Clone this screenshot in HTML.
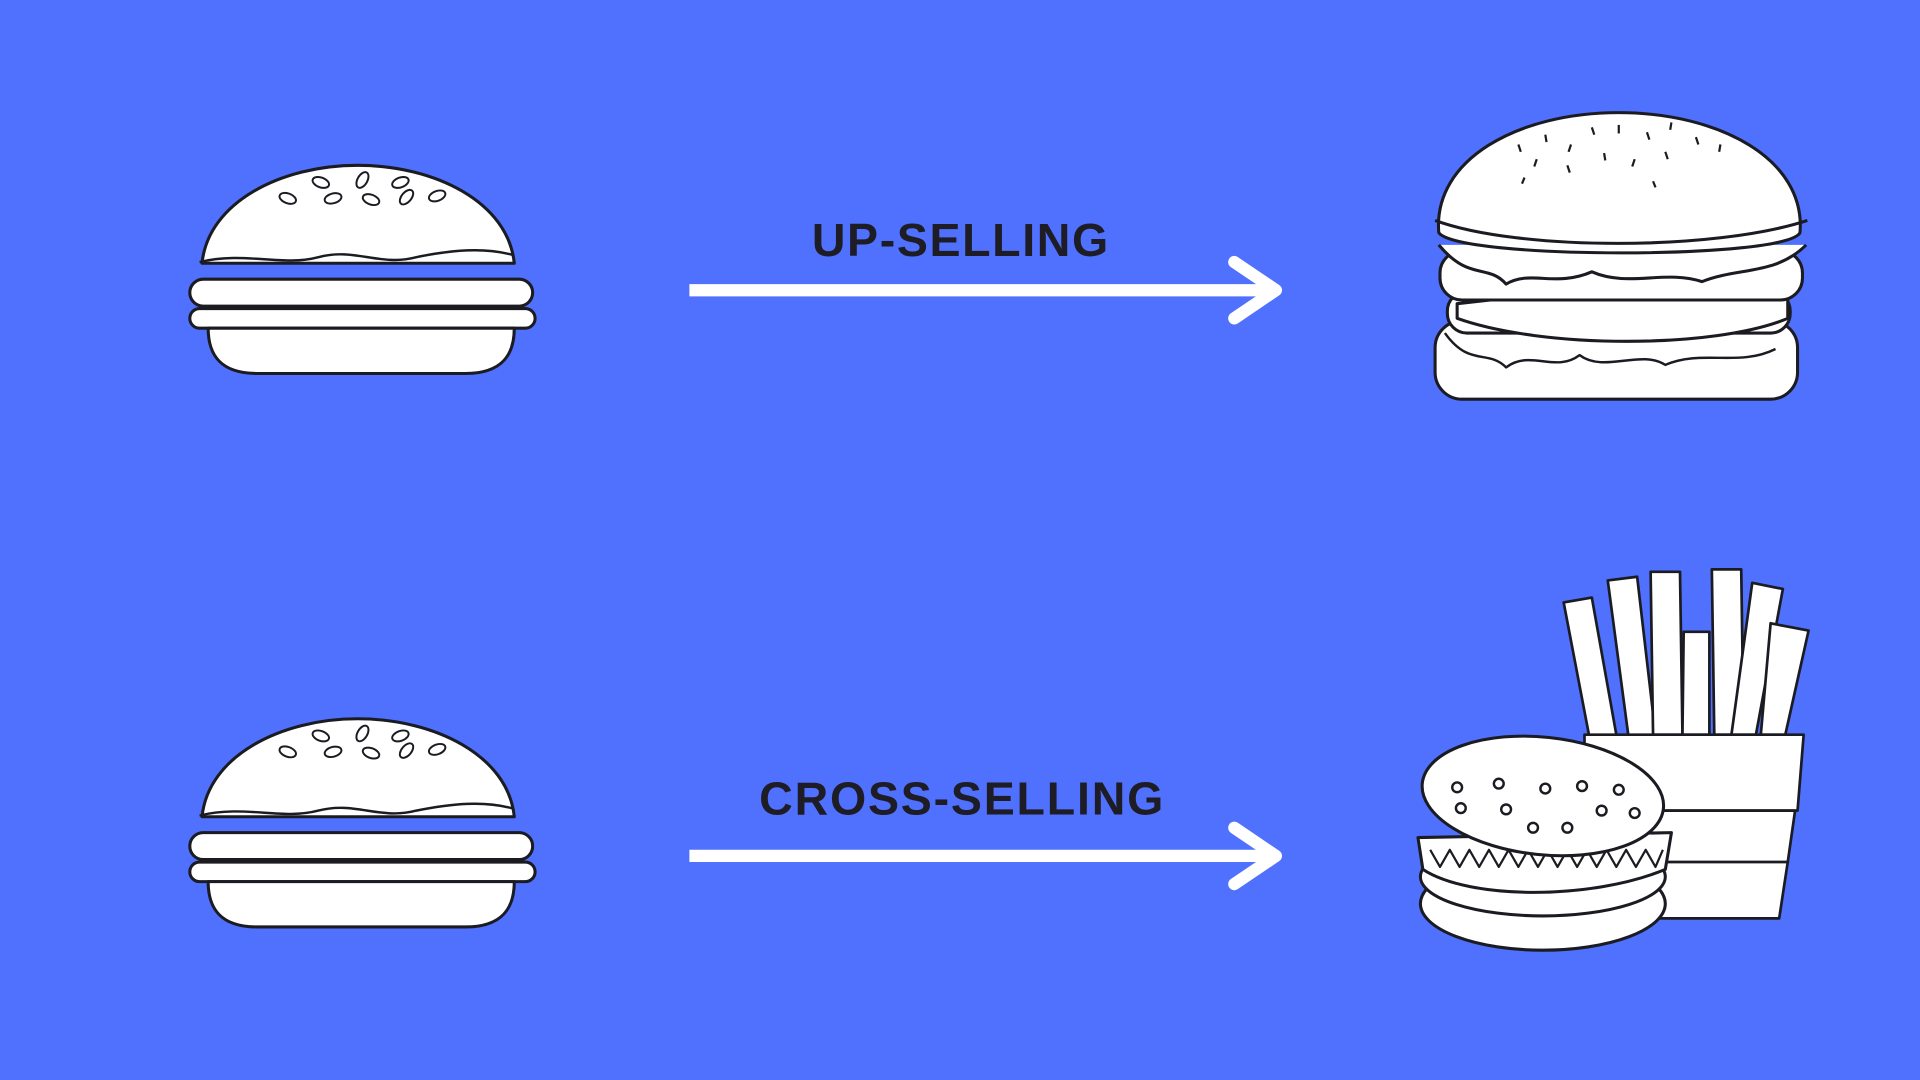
<!DOCTYPE html>
<html><head><meta charset="utf-8"><style>
html,body{margin:0;padding:0;background:#5070FE;width:1920px;height:1080px;overflow:hidden}
svg{display:block}
</style></head><body>
<svg width="1920" height="1080" viewBox="0 0 1568 882" xmlns="http://www.w3.org/2000/svg">
<rect width="1568" height="882" fill="#5070FE"/>
<defs>
<g id="small" stroke="#1b1b22" stroke-width="2.5" fill="#fff" stroke-linejoin="round">
  <path d="M165 215 C170 165 230 135 292 135 C355 135 415 165 420 215 Z"/>
  <path d="M163 214 C200 205 230 218 260 210 C290 202 310 218 340 210 C370 204 395 202 418 208" fill="none" stroke-width="2"/>
  <rect x="155" y="228" width="280" height="22" rx="11"/>
  <rect x="155" y="252" width="282" height="16" rx="8"/>
  <path d="M170 268 L420 268 C420 290 410 305 380 305 L210 305 C180 305 170 290 170 268 Z"/>
  <g fill="none" stroke-width="1.6">
    <ellipse cx="235" cy="162" rx="7" ry="4" transform="rotate(20 235 162)"/>
    <ellipse cx="262" cy="149" rx="7" ry="4" transform="rotate(20 262 149)"/>
    <ellipse cx="272" cy="162" rx="7" ry="4" transform="rotate(-15 272 162)"/>
    <ellipse cx="296" cy="147" rx="4" ry="7" transform="rotate(30 296 147)"/>
    <ellipse cx="303" cy="163" rx="7" ry="4" transform="rotate(20 303 163)"/>
    <ellipse cx="327" cy="149" rx="7" ry="4" transform="rotate(-20 327 149)"/>
    <ellipse cx="332" cy="161" rx="4" ry="7" transform="rotate(40 332 161)"/>
    <ellipse cx="357" cy="160" rx="7" ry="4" transform="rotate(-20 357 160)"/>
  </g>
</g>
</defs>
<use href="#small"/>
<use href="#small" transform="translate(0,452)"/>

<g stroke="#fff" stroke-width="10" fill="none" stroke-linecap="round" stroke-linejoin="round">
  <line x1="563" y1="237" x2="1040" y2="237" stroke-linecap="butt"/>
  <polyline points="1008,214 1042,237 1008,260"/>
  <line x1="563" y1="699" x2="1040" y2="699" stroke-linecap="butt"/>
  <polyline points="1008,676 1042,699 1008,722"/>
</g>
<g font-family="Liberation Sans, sans-serif" font-weight="bold" font-size="38" fill="#1e1c24">
  <text x="663" y="209" textLength="242" lengthAdjust="spacing">UP-SELLING</text>
  <text x="620" y="665" textLength="330" lengthAdjust="spacing">CROSS-SELLING</text>
</g>

<g stroke="#1b1b22" stroke-width="2.5" fill="#fff" stroke-linejoin="round">
  <rect x="1172" y="262" width="296" height="64" rx="22"/>
  <path d="M1180 272 C1200 300 1215 285 1230 300 C1250 285 1270 305 1290 290 C1310 305 1340 285 1360 298 C1390 285 1420 300 1450 285" fill="none" stroke-width="2"/>
  <rect x="1182" y="238" width="280" height="34" rx="16"/>
  <path d="M1190 248 L1460 218 L1460 260 C1400 285 1260 285 1190 260 Z"/>
  <rect x="1176" y="205" width="296" height="40" rx="18"/>
  <path d="M1175 200 C1200 230 1215 215 1230 232 C1250 220 1270 235 1300 222 C1330 235 1360 220 1390 230 C1420 218 1450 225 1475 200"/>
  <path d="M1175 190 C1170 130 1240 92 1322 92 C1404 92 1475 130 1470 190 C1460 212 1190 212 1175 190 Z"/>
  <path d="M1172 180 C1240 205 1400 205 1476 180" fill="none"/>
  <g stroke-width="1.8" fill="none">
    <path d="M1240 118 l2 6"/><path d="M1262 110 l1 6"/><path d="M1283 118 l-2 6"/><path d="M1300 104 l2 6"/>
    <path d="M1322 102 l0 7"/><path d="M1345 108 l2 6"/><path d="M1365 100 l-1 6"/><path d="M1385 112 l2 6"/>
    <path d="M1405 118 l-1 6"/><path d="M1255 130 l-2 6"/><path d="M1280 135 l2 6"/><path d="M1310 125 l1 6"/>
    <path d="M1335 130 l-2 6"/><path d="M1360 124 l2 6"/><path d="M1245 145 l-2 5"/><path d="M1350 148 l2 5"/>
  </g>
</g>

<g stroke="#1b1b22" stroke-width="2.2" fill="#fff" stroke-linejoin="round">
  <polygon points="1277,492 1300,488 1320,600 1298,602"/>
  <polygon points="1313,474 1337,471 1352,600 1330,602"/>
  <polygon points="1348,467 1372,467 1374,600 1350,600"/>
  <polygon points="1375,516 1396,516 1396,600 1374,600"/>
  <polygon points="1398,465 1422,465 1424,600 1400,600"/>
  <polygon points="1431,476 1456,481 1434,600 1414,600"/>
  <polygon points="1446,509 1477,515 1458,600 1438,600"/>
  <polygon points="1294,600 1473,600 1468,662 1294,662"/>
  <polygon points="1294,662 1466,662 1460,704 1294,704"/>
  <polygon points="1294,704 1460,704 1453,750 1294,750"/>
</g>
<g stroke="#1b1b22" stroke-width="2.5" fill="#fff" stroke-linejoin="round">
  <ellipse cx="1260" cy="738" rx="100" ry="38"/>
  <ellipse cx="1260" cy="716" rx="100" ry="32"/>
  <path d="M1158 684 L1365 680 L1360 710 C1300 735 1200 735 1162 710 Z"/>
  <path d="M1168 694 l8 14 l8 -14 l8 14 l8 -14 l8 14 l8 -14 l8 14 l8 -14 l8 14 l8 -14 l8 14 l8 -14 l8 14 l8 -14 l8 14 l8 -14 l8 14 l8 -14 l8 14 l8 -14 l8 14 l8 -14 l8 14 l6 -14" fill="none" stroke-width="1.8"/>
  <ellipse cx="1260" cy="650" rx="99" ry="48" transform="rotate(6 1260 650)"/>
  <g fill="none" stroke-width="2">
    <circle cx="1190" cy="643" r="4"/><circle cx="1224" cy="640" r="4"/><circle cx="1262" cy="644" r="4"/><circle cx="1292" cy="642" r="4"/><circle cx="1322" cy="645" r="4"/>
    <circle cx="1193" cy="660" r="4"/><circle cx="1230" cy="661" r="4"/><circle cx="1252" cy="676" r="4"/><circle cx="1280" cy="676" r="4"/><circle cx="1308" cy="662" r="4"/><circle cx="1335" cy="664" r="4"/>
  </g>
</g>
</svg>
</body></html>
